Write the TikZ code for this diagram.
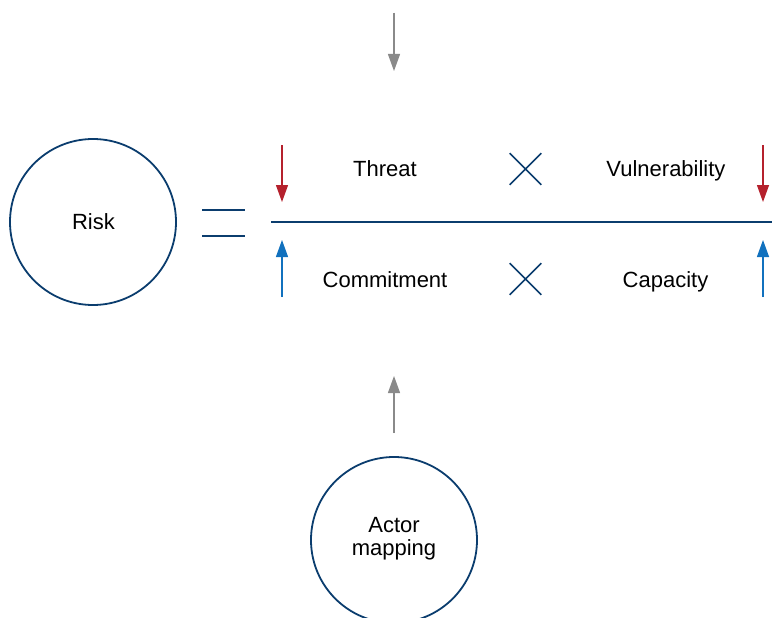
\documentclass[tikz,border=0pt]{standalone}
\usepackage{fontspec}
\setmainfont{Liberation Sans}
\usetikzlibrary{arrows.meta,shapes.misc}
\definecolor{navy}{HTML}{0B3D6E}
\definecolor{riskred}{HTML}{B5212D}
\definecolor{capblue}{HTML}{1171BE}
\definecolor{flowgray}{HTML}{8A8A8A}
\begin{document}
\begin{tikzpicture}[x=1pt,y=-1pt,
  label/.style={font=\fontsize{22}{23}\selectfont, inner sep=0pt, anchor=base},
  ring/.style={circle, draw=navy, line width=1.8pt, minimum size=166pt, inner sep=0pt},
  times/.style={cross out, draw=navy, line width=1.6pt, minimum size=30pt, inner sep=0pt},
  flow/.style={line width=1.3pt, -{Triangle[length=17pt,width=12pt]}},
  down/.style={flow, draw=riskred, fill=riskred},
  up/.style={flow, draw=capblue, fill=capblue},
  feed/.style={flow, draw=flowgray, fill=flowgray}]
\useasboundingbox (0,0) rectangle (772,618);

% circles and their captions
\node[ring] (risk) at (93,222) {};
\node[label] (riskTxt) at (93.5,229) {Risk};
\node[ring] (actor) at (394,540) {};
\node[label] (actorTxt) at (394,532) {Actor};
\node[label] (mapTxt) at (394,555) {mapping};

% equals sign
\coordinate (eqAl) at (202,210); \coordinate (eqAr) at (245,210);
\coordinate (eqBl) at (202,236); \coordinate (eqBr) at (245,236);
\draw[navy, line width=1.8pt] (eqAl) -- (eqAr);
\draw[navy, line width=1.8pt] (eqBl) -- (eqBr);

% fraction bar
\coordinate (barL) at (271,222); \coordinate (barR) at (772,222);
\draw[navy, line width=2pt] (barL) -- (barR);

% numerator and denominator terms
\node[label] (threat) at (385,176) {Threat};
\node[times] (mulTop) at (525.5,169) {};
\node[label] (vuln) at (666,176) {Vulnerability};
\node[label] (commit) at (385,287) {Commitment};
\node[times] (mulBot) at (525.5,279) {};
\node[label] (capac) at (665.5,287) {Capacity};

% arrows towards the bar
\coordinate (rdA0) at (282,145); \coordinate (rdA1) at (282,202);
\coordinate (rdB0) at (763,145); \coordinate (rdB1) at (763,202);
\coordinate (buA0) at (282,297); \coordinate (buA1) at (282,240);
\coordinate (buB0) at (763,297); \coordinate (buB1) at (763,240);
\draw[down] (rdA0) -- (rdA1);
\draw[down] (rdB0) -- (rdB1);
\draw[up] (buA0) -- (buA1);
\draw[up] (buB0) -- (buB1);

% grey feed arrows
\coordinate (topIn0) at (394,13); \coordinate (topIn1) at (394,71);
\coordinate (botIn0) at (394,433); \coordinate (botIn1) at (394,376);
\draw[feed] (topIn0) -- (topIn1);
\draw[feed] (botIn0) -- (botIn1);
\end{tikzpicture}
\end{document}
